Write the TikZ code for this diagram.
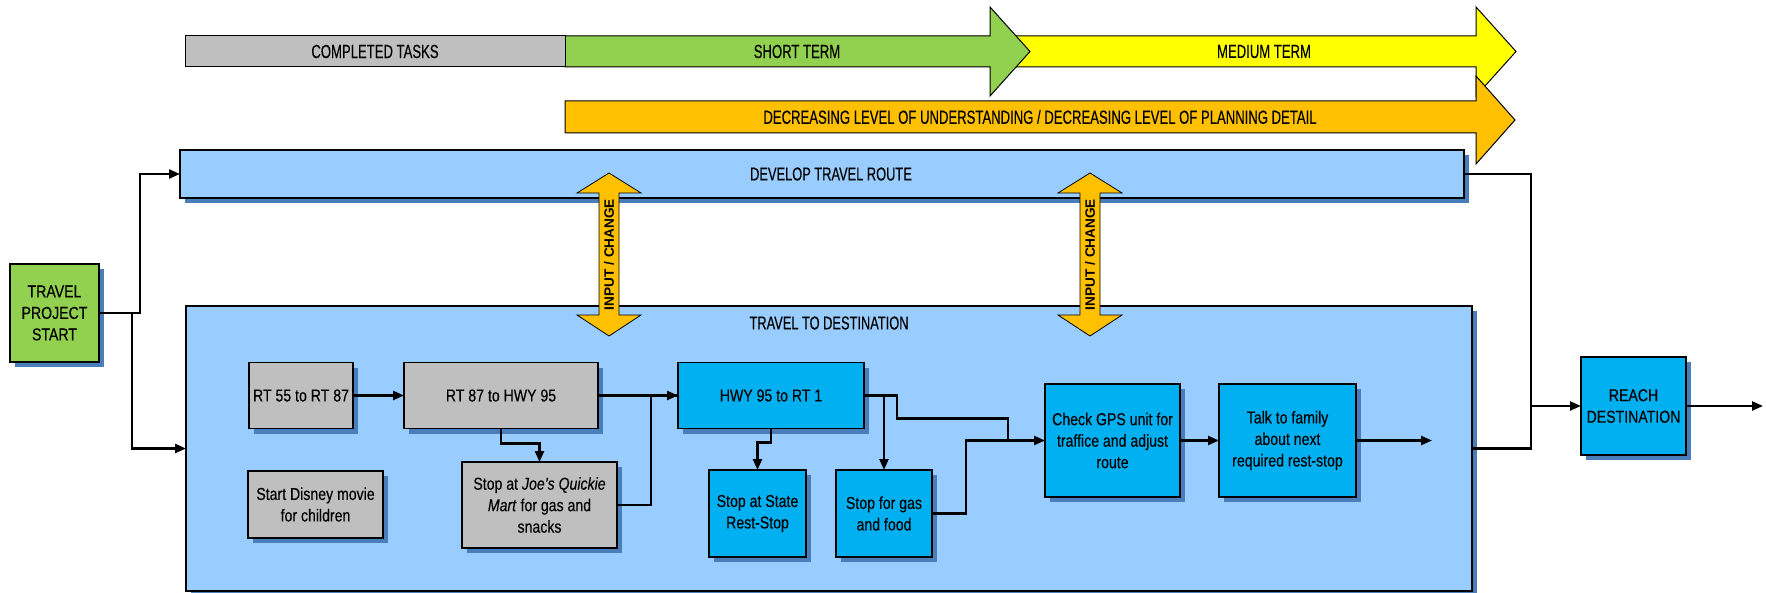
\documentclass[tikz,border=0pt]{standalone}
\usepackage{fontspec}
\setmainfont{Liberation Sans}[FakeStretch=0.82, FakeBold=0.25]
\newfontfamily\plainsans{Liberation Sans}
\newfontfamily\condsans{Liberation Sans}[FakeStretch=0.69, FakeBold=0.25]
\usetikzlibrary{shadows,arrows.meta,calc}
\definecolor{grayb}{HTML}{BFBFBF}
\definecolor{lblue}{HTML}{99CCFF}
\definecolor{cyanb}{HTML}{00B0F0}
\definecolor{greenb}{HTML}{92D050}
\definecolor{yellowb}{HTML}{FFFF00}
\definecolor{orangeb}{HTML}{FFC000}
\definecolor{shadowb}{HTML}{4A7EBB}
\tikzset{
  box/.style={draw=black, line width=0.6pt, align=center, inner sep=1pt, outer sep=0pt,
    font=\fontsize{8.6}{10.75}\selectfont,
    drop shadow={shadow xshift=2.5pt, shadow yshift=-2.5pt, fill=shadowb, opacity=1}},
  graybox/.style={box, fill=grayb},
  cyanbox/.style={box, fill=cyanb},
  bigbox/.style={box, fill=lblue},
  conn/.style={line width=1.15pt},
  arr/.style={conn, -{Triangle[length=5.5pt,width=4.5pt]}},
  band/.style={draw=black, line width=0.5pt},
  bandtext/.style={font=\condsans\fontsize{9.5}{10}\selectfont},
  titletext/.style={font=\condsans\fontsize{9.3}{10}\selectfont},
  dbl/.style={draw=black, line width=0.4pt, fill=orangeb},
  dbltext/.style={rotate=90, font=\plainsans\bfseries\fontsize{6.8}{8}\selectfont}
}
\begin{document}
\begin{tikzpicture}[x=0.5pt, y=-0.5pt]
\useasboundingbox (0,0) rectangle (1766,593);
% timeline bands
\filldraw[band, fill=yellowb] (990,36) -- (1476,36) -- (1476,7) -- (1516,51.5) -- (1476,96) -- (1476,67) -- (990,67) -- cycle;
\filldraw[band, fill=greenb] (565,36) -- (990,36) -- (990,7) -- (1030,51.5) -- (990,96) -- (990,67) -- (565,67) -- cycle;
\filldraw[band, fill=grayb] (185,36) rectangle (565,67);
\filldraw[band, fill=orangeb] (565,101) -- (1476,101) -- (1476,76) -- (1515,120) -- (1476,164) -- (1476,133) -- (565,133) -- cycle;
\node[bandtext] (tcomp) at (375,51.5) {COMPLETED TASKS};
\node[bandtext] (tshort) at (797,51.5) {SHORT TERM};
\node[bandtext] (tmed) at (1264,51.5) {MEDIUM TERM};
\node[bandtext] (tdec) at (1040,117) {DECREASING LEVEL OF UNDERSTANDING / DECREASING LEVEL OF PLANNING DETAIL};
% big boxes
\node[bigbox, minimum width=642pt, minimum height=24pt] (develop) at (822,174) {\condsans\fontsize{9.3}{10}\selectfont\hspace*{9pt}DEVELOP TRAVEL ROUTE};
\node[bigbox, minimum width=643pt, minimum height=142.5pt] (travel) at (829,448.5) {};
\node[titletext] (ttitle) at (829,323) {TRAVEL TO DESTINATION};
% start / end
\node[box, fill=greenb, minimum width=44.5pt, minimum height=49pt] (start) at (54.5,313) {TRAVEL\\PROJECT\\START};
\node[cyanbox, minimum width=52.5pt, minimum height=49pt] (reach) at (1633.5,406) {REACH\\DESTINATION};
% input/change arrows
\foreach \cx/\nm in {609/ic1, 1090/ic2}{
  \filldraw[dbl] (\cx,173) -- (\cx+32,193) -- (\cx+10,193) -- (\cx+10,315) -- (\cx+32,315) -- (\cx,336) -- (\cx-32,315) -- (\cx-10,315) -- (\cx-10,193) -- (\cx-32,193) -- cycle;
  \node[dbltext] (\nm) at (\cx,254.5) {INPUT / CHANGE};
}
% inner boxes
\node[graybox, minimum width=52pt, minimum height=33pt] (rt55) at (301,395.5) {RT 55 to RT 87};
\node[graybox, minimum width=97pt, minimum height=33pt] (rt87) at (501,395.5) {RT 87 to HWY 95};
\node[graybox, minimum width=77.5pt, minimum height=43pt] (joe) at (539.5,505) {Stop at \textit{Joe’s Quickie}\\\textit{Mart} for gas and\\snacks};
\node[graybox, minimum width=67.5pt, minimum height=33.5pt] (disney) at (315.5,504.5) {Start Disney movie\\for children};
\node[cyanbox, minimum width=93pt, minimum height=33pt] (hwy) at (771,395.5) {HWY 95 to RT 1};
\node[cyanbox, minimum width=48.5pt, minimum height=43.5pt] (state) at (757.5,513.5) {Stop at State\\Rest-Stop};
\node[cyanbox, minimum width=48pt, minimum height=43.5pt] (gas) at (884,513.5) {Stop for gas\\and food};
\node[cyanbox, minimum width=67.5pt, minimum height=56.5pt] (gps) at (1112.5,440.5) {Check GPS unit for\\traffice and adjust\\route};
\node[cyanbox, minimum width=68.5pt, minimum height=56.5pt] (talk) at (1287.5,440.5) {Talk to family\\about next\\required rest-stop};
\coordinate (tout) at (1432,440.5);
\coordinate (junc) at (1531,406);
\coordinate (rout) at (1763,406);
% connectors
\draw[arr] (start.east) -- ++(41,0) |- (develop.west);
\draw[arr] (start.east) -- ++(33,0) |- (travel.west);
\draw[arr] (rt55) -- (rt87);
\draw[arr] (rt87.south) -- ++(0,15) -| (joe.north);
\draw[arr] (rt87.east) -- (hwy.west);
\draw[conn] (joe.east) -- ++(34,0) |- (hwy.west);
\draw[arr] (hwy.east) -| (gas.north);
\draw[arr] (hwy.south) -- ++(0,14) -| (state.north);
\draw[arr] (hwy.east) -- ++(33,0) -- ++(0,23) -| ([xshift=-18.5pt]gps.west) -- (gps.west);
\draw[conn] (gas.east) -- ++(34,0) |- ([xshift=-18.5pt]gps.west);
\draw[arr] (gps) -- (talk);
\draw[arr] (talk.east) -- (tout);
\draw[conn] (develop.east) -| (junc);
\draw[conn] (travel.east) -| (junc);
\draw[arr] (junc) -- (reach.west);
\draw[arr] (reach.east) -- (rout);
\end{tikzpicture}
\end{document}
